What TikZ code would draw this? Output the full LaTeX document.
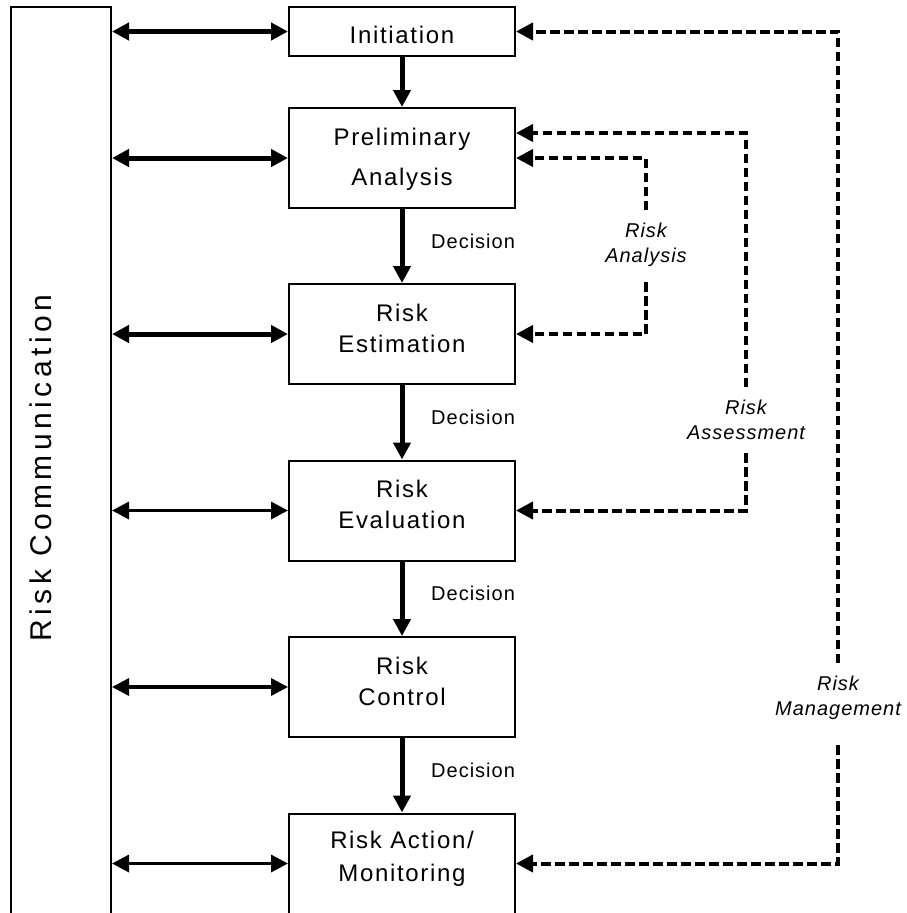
\documentclass[tikz,border=0pt]{standalone}
\usepackage{fontspec}
\setmainfont{Liberation Sans}[LetterSpace=5]
\usetikzlibrary{arrows.meta}
\tikzset{
  box/.style={draw, line width=2pt, minimum width=226pt, minimum height=100pt, inner sep=0pt,
    align=center, font=\fontsize{24}{31}\selectfont\addfontfeatures{LetterSpace=7}, text depth=12pt},
  tip/.style={-{Triangle[length=17pt,width=17pt]}},
  flow/.style={line width=5pt, tip},
  dblthick/.style={line width=5pt, {Triangle[length=17pt,width=17pt]}-{Triangle[length=17pt,width=17pt]}},
  dblthin/.style={line width=3.4pt, {Triangle[length=17pt,width=17pt]}-{Triangle[length=17pt,width=17pt]}},
  dsh/.style={line width=4pt, dash pattern=on 9.5pt off 4.5pt},
  dshtip/.style={dsh, tip},
  declabel/.style={anchor=west, font=\fontsize{20}{24}\selectfont, inner sep=0pt},
  itlabel/.style={align=center, font=\fontsize{20}{25}\selectfont\itshape, inner sep=0pt}
}
\begin{document}
\begin{tikzpicture}[x=1pt,y=-1pt]
\useasboundingbox (0,0) rectangle (907,913);
% left bar
\node[draw, line width=2pt, minimum width=100pt, minimum height=916pt, inner sep=0pt] (comm) at (61,465) {};
\node[rotate=90, font=\fontsize{30}{36}\selectfont\addfontfeatures{LetterSpace=15}, inner sep=0pt] (commtext) at (41,468) {Risk Communication};
% boxes
\node[box, minimum height=49pt, text height=24.5pt, text depth=0pt] (init) at (402,31.5) {Initiation};
\node[box, font=\fontsize{24}{40}\selectfont\addfontfeatures{LetterSpace=7}, text depth=2pt] (prelim) at (402,158) {Preliminary\\Analysis};
\node[box] (est) at (402,334) {Risk\\Estimation};
\node[box] (eval) at (402,510.5) {Risk\\Evaluation};
\node[box] (ctrl) at (402,687) {Risk\\Control};
\node[box, font=\fontsize{24}{33}\selectfont\addfontfeatures{LetterSpace=7}, text depth=14pt] (act) at (402,863.5) {Risk Action/\\Monitoring};
% vertical flow
\draw[flow] (init.south) -- (prelim.north);
\draw[flow] (prelim.south) -- (est.north);
\draw[flow] (est.south) -- (eval.north);
\draw[flow] (eval.south) -- (ctrl.north);
\draw[flow] (ctrl.south) -- (act.north);
% decision labels
\node[declabel] (d1) at (431,241) {Decision};
\node[declabel] (d2) at (431,417) {Decision};
\node[declabel] (d3) at (431,593) {Decision};
\node[declabel] (d4) at (431,770) {Decision};
% communication arrows
\draw[dblthick] (comm.east |- init.west) -- (init.west);
\draw[dblthick] (comm.east |- prelim.west) -- (prelim.west);
\draw[dblthick] (comm.east |- est.west) -- (est.west);
\draw[dblthin] (comm.east |- eval.west) -- (eval.west);
\draw[dblthin] (comm.east |- ctrl.west) -- (ctrl.west);
\draw[dblthin] (comm.east |- act.west) -- (act.west);
% risk analysis loop
\coordinate (a1) at (646,158);
\coordinate (a2) at (646,210);
\coordinate (a3) at (646,282);
\coordinate (a4) at (646,334);
\draw[dshtip] (a2) -- (a1) -- (prelim.east);
\draw[dshtip] (a3) -- (a4) -- (est.east);
\node[itlabel] (ra) at (646,245) {Risk\\Analysis};
% risk assessment loop
\coordinate (s1) at (746,133);
\coordinate (s2) at (746,387);
\coordinate (s3) at (746,453);
\coordinate (s4) at (746,510.5);
\draw[dshtip] (s2) -- (s1) -- (prelim.east |- s1);
\draw[dshtip] (s3) -- (s4) -- (eval.east);
\node[itlabel] (rs) at (746,420) {Risk\\Assessment};
% risk management loop
\coordinate (m1) at (838,31.5);
\coordinate (m2) at (838,663);
\coordinate (m3) at (838,745);
\coordinate (m4) at (838,863.5);
\draw[dshtip] (m2) -- (m1) -- (init.east);
\draw[dshtip] (m3) -- (m4) -- (act.east);
\node[itlabel] (rm) at (838,698) {Risk\\Management};
\end{tikzpicture}
\end{document}
